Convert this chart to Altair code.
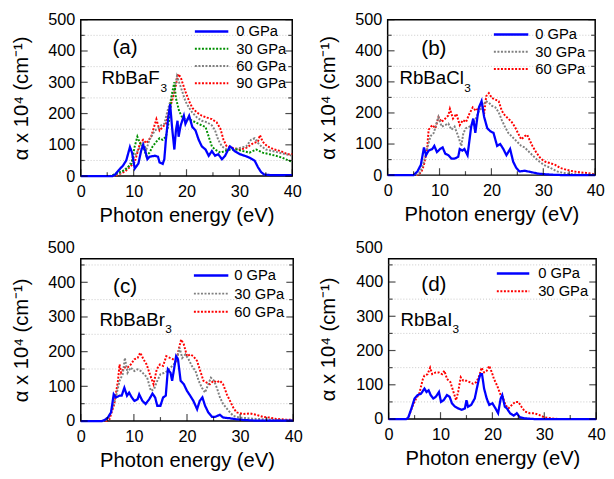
import altair as alt
import pandas as pd

# ---------------- data ----------------
# (a) RbBaF3
a0_e = [0, 6, 6.5, 7.4, 8, 8.6, 9.3, 9.7, 10.2, 10.9, 11.4, 11.8, 12.2, 12.6, 13, 14, 14.6, 14.9, 15.5, 15.8, 16.1, 16.5, 16.9, 17.3, 17.7, 18, 18.3, 18.5, 18.9, 19.5, 19.8, 20.5, 21.1, 21.7, 22.3, 22.9, 23.6, 24.2, 24.8, 25.4, 26, 26.7, 27.3, 28.2, 28.6, 29.1, 30.1, 31, 31.9, 32.9, 33.5, 34.1, 34.7, 36, 40]
a0_v = [0, 0, 5, 23, 34, 50, 93, 75, 24, 40, 80, 100, 80, 54, 62, 65, 62, 44, 39, 54, 116, 180, 230, 150, 85, 146, 177, 126, 162, 193, 167, 193, 157, 146, 116, 95, 85, 65, 80, 65, 70, 54, 65, 95, 90, 80, 70, 65, 59, 49, 29, 13, 5, 3, 3]
a30_e = [0, 5.5, 7, 8.4, 9.6, 10.2, 10.7, 11.2, 11.8, 12.4, 13, 13.6, 14.3, 14.9, 15.5, 16.1, 16.7, 17.2, 17.7, 18, 18.6, 19.2, 19.8, 20.5, 21.1, 21.7, 22.3, 22.9, 23.6, 24.2, 24.8, 25.4, 26.4, 27.3, 28.2, 29.5, 30.7, 31.9, 33.2, 34.4, 35.7, 36.9, 38.1, 39.4, 40]
a30_v = [0, 0, 10, 20, 40, 95, 126, 105, 95, 65, 75, 95, 110, 121, 116, 126, 177, 260, 300, 249, 208, 187, 182, 182, 177, 172, 167, 162, 157, 126, 95, 85, 75, 80, 85, 85, 80, 75, 85, 75, 70, 65, 59, 49, 47]
a60_e = [0, 6, 7.5, 9, 10.9, 11.8, 12.4, 13, 14, 14.6, 15.2, 15.8, 16.4, 17.1, 17.7, 18.2, 18.6, 19.2, 19.8, 20.5, 21.1, 22, 22.9, 23.9, 24.8, 25.4, 26, 26.7, 27.6, 28.8, 30.1, 31.3, 32.2, 32.9, 33.8, 35, 36.3, 37.5, 38.8, 40]
a60_v = [0, 0, 10, 30, 85, 105, 85, 116, 146, 152, 162, 167, 208, 249, 275, 320, 300, 270, 239, 218, 203, 187, 177, 172, 162, 146, 116, 95, 85, 85, 90, 95, 116, 121, 100, 85, 80, 75, 70, 65]
a90_e = [0, 6.5, 8.4, 10.2, 11.2, 11.8, 12.4, 13.3, 14.3, 14.9, 15.5, 16.1, 16.6, 17.4, 18, 18.4, 18.9, 19.4, 19.8, 20.5, 21.1, 22, 22.9, 23.9, 24.8, 25.7, 26.4, 27, 27.6, 28.8, 30.1, 31.3, 32.6, 33.5, 33.9, 34.4, 35.3, 36.6, 37.8, 39.1, 40]
a90_v = [0, 0, 15, 44, 105, 116, 105, 126, 182, 146, 157, 167, 203, 249, 290, 326, 316, 290, 270, 239, 218, 203, 193, 187, 182, 172, 152, 116, 95, 90, 85, 90, 105, 110, 131, 110, 95, 85, 80, 70, 70]

# (b) RbBaCl3
b0_e = [0, 5, 5.75, 6.4, 7, 7.4, 7.9, 8.6, 9, 9.5, 10.1, 10.6, 11.1, 11.7, 12.3, 12.9, 13.6, 13.9, 14.4, 14.8, 15.4, 16.1, 16.5, 16.9, 17.3, 17.6, 18.1, 18.6, 19.2, 19.8, 20.4, 21.1, 21.7, 22.3, 22.9, 23.6, 24.2, 24.8, 25.4, 26.4, 27.6, 28.9, 30.1, 32, 34, 40]
b0_v = [0, 0, 12, 33, 89, 64, 79, 84, 94, 74, 84, 89, 69, 64, 53, 53, 59, 84, 79, 84, 64, 156, 182, 136, 187, 218, 238, 187, 151, 141, 136, 94, 100, 84, 64, 84, 43, 23, 12, 14, 10, 5, 3, 1, 0, 0]
b30_e = [0, 5.5, 6.3, 7, 7.75, 8.25, 8.9, 9.4, 9.8, 10.4, 11.1, 11.7, 12.3, 12.9, 13.6, 14.2, 14.6, 15.1, 15.75, 16.4, 17, 17.6, 18.25, 18.9, 19.5, 20.1, 20.75, 21.4, 22, 22.6, 23.25, 23.9, 24.5, 25.1, 25.75, 26.4, 27, 27.9, 28.9, 30.1, 31.4, 32.6, 33.9, 35.1, 37, 40]
b30_v = [0, 0, 10, 43, 94, 125, 136, 166, 187, 156, 161, 166, 146, 156, 125, 94, 136, 151, 156, 166, 182, 207, 218, 238, 233, 223, 218, 202, 177, 156, 136, 125, 115, 105, 94, 89, 79, 64, 48, 33, 23, 12, 7, 4, 2, 2]
b60_e = [0, 5.8, 6.5, 7, 7.6, 7.9, 8.6, 9.2, 9.8, 10.4, 11.1, 11.7, 12, 12.6, 13.25, 13.9, 14.5, 15.1, 15.75, 16.4, 17, 17.6, 18.25, 18.6, 19, 19.5, 20.1, 20.75, 21.4, 22, 22.6, 23.25, 23.9, 24.5, 25.1, 25.75, 26.4, 26.9, 27.3, 27.9, 28.6, 29.5, 30.4, 31.4, 32.3, 33.25, 34.5, 35.75, 37, 38.25, 39.5, 40]
b60_v = [0, 0, 10, 33, 84, 146, 161, 151, 187, 171, 182, 192, 213, 182, 197, 161, 177, 171, 197, 218, 207, 218, 228, 197, 254, 264, 248, 243, 238, 207, 192, 182, 171, 156, 136, 115, 125, 130, 115, 94, 74, 53, 43, 38, 33, 23, 17, 12, 9, 7, 4, 4]

# (c) RbBaBr3
c0_e = [0, 4, 4.5, 5.1, 5.7, 6.2, 6.6, 7.3, 7.7, 8.2, 8.7, 9.1, 9.6, 10.1, 10.7, 11, 11.6, 12.2, 12.9, 13.5, 14, 14.4, 15, 15.5, 16, 16.4, 16.9, 17.2, 17.5, 17.95, 18.3, 18.8, 19.4, 20, 20.6, 21.2, 21.9, 22.4, 22.9, 23.4, 24, 24.7, 25.3, 26.2, 26.8, 28, 29.3, 30.6, 33, 40]
c0_v = [0, 0, 3, 10, 25, 77, 68, 73, 73, 96, 73, 82, 68, 58, 63, 77, 58, 49, 63, 79, 68, 44, 44, 68, 73, 149, 139, 116, 144, 187, 178, 116, 106, 87, 73, 58, 34, 58, 68, 44, 25, 12, 12, 18, 10, 8, 5, 3, 1, 1]
c30_e = [0, 4.5, 5.1, 6, 6.6, 7.3, 7.9, 8.3, 8.8, 9.4, 10.1, 10.7, 11.3, 11.9, 12.5, 13.2, 13.8, 14.4, 15, 15.7, 16.3, 16.9, 17.5, 18.1, 18.6, 19.1, 19.7, 20.3, 20.9, 21.6, 22.2, 22.8, 23.4, 24, 24.5, 25.1, 25.7, 26.2, 26.8, 27.8, 28.7, 29.9, 31.5, 33, 34.9, 36.8, 39.3, 40]
c30_v = [0, 0, 5, 39, 68, 116, 135, 182, 139, 154, 144, 149, 144, 135, 125, 87, 92, 116, 135, 139, 144, 154, 163, 178, 211, 182, 192, 178, 159, 144, 116, 96, 82, 106, 125, 116, 92, 68, 49, 30, 15, 10, 8, 6, 5, 3, 2, 2]
c60_e = [0, 4.8, 5.4, 6.3, 7, 7.3, 7.6, 8.2, 8.8, 9.4, 10.1, 10.7, 11.2, 11.8, 12.4, 13, 13.7, 14.3, 14.9, 15.5, 16.1, 16.8, 17.4, 18, 18.5, 18.9, 19.4, 20, 20.6, 21.2, 21.9, 22.5, 23.1, 23.7, 24.3, 25, 25.6, 26.2, 26.8, 27.5, 28.1, 28.7, 29.3, 30.6, 31.8, 33, 34.3, 35.5, 36.8, 38.6, 40]
c60_v = [0, 0, 5, 49, 116, 163, 139, 154, 154, 163, 178, 182, 197, 178, 163, 135, 106, 149, 163, 159, 187, 182, 178, 173, 211, 235, 221, 187, 192, 187, 173, 144, 116, 111, 106, 116, 111, 116, 106, 77, 58, 39, 25, 20, 22, 18, 12, 10, 6, 4, 3]

# (d) RbBaI3
d0_e = [0, 3.4, 3.75, 4.4, 5, 5.6, 6.25, 6.9, 7.3, 7.7, 8.1, 8.6, 9.1, 9.7, 10.1, 10.6, 11.25, 11.75, 12.2, 12.8, 13.4, 14.1, 14.7, 15, 15.3, 15.9, 16.6, 17, 17.4, 17.7, 18, 18.4, 18.9, 19.4, 20, 20.6, 21.1, 21.6, 21.9, 22.4, 22.8, 23.4, 24.1, 24.7, 25.3, 26.25, 28, 40]
d0_v = [0, 0, 3, 31, 60, 70, 74, 89, 79, 84, 70, 60, 65, 79, 50, 55, 70, 65, 46, 36, 31, 27, 31, 55, 36, 41, 60, 89, 117, 131, 131, 89, 60, 41, 46, 31, 17, 60, 70, 36, 31, 17, 10, 17, 5, 2, 0, 0]
d30_e = [0, 3.4, 3.75, 4.7, 5.3, 5.9, 6.6, 6.9, 7.5, 8, 8.4, 9.1, 9.7, 10.3, 10.75, 11.25, 11.9, 12.5, 13, 13.4, 13.9, 14.4, 15, 15.6, 16.25, 16.9, 17.5, 17.9, 18.4, 18.9, 19.4, 19.9, 20.3, 20.9, 21.6, 22, 22.5, 23.1, 23.75, 24.4, 25, 25.6, 26.25, 27.2, 28.1, 29, 30, 31.25, 33, 40]
d30_v = [0, 0, 3, 41, 60, 74, 117, 127, 131, 150, 131, 136, 136, 131, 141, 117, 108, 79, 55, 79, 122, 112, 112, 108, 103, 108, 127, 150, 136, 141, 155, 136, 117, 98, 70, 65, 41, 31, 41, 50, 50, 36, 22, 17, 17, 12, 5, 2, 0, 0]

x_labels = [0, 10, 20, 30, 40]
x_minor = [5, 15, 25, 35]
y_labels = [0, 100, 200, 300, 400, 500]
y_minor = [50, 150, 250, 350, 450]

# ---------------- styling ----------------
FONT = "Liberation Sans"
BLUE, GREEN, GRAY, RED = "#0000ff", "#009000", "#808080", "#ff0000"
SOLID, DOT = [1, 0], [2, 1.6]


def panel(series, w, h, ymax, tag, formula, leg, tagpos, formpos):
    xs = alt.Scale(domain=[0, 40], nice=False, zero=False)
    ys = alt.Scale(domain=[0, ymax], nice=False, zero=False)
    xaxis = alt.Axis(values=x_labels, ticks=False, domain=False, grid=False,
                     labelFlush=False, labelFontSize=16.5, labelPadding=8,
                     labelFont=FONT, titleFont=FONT, titleFontSize=20.5,
                     titleFontWeight="normal", titlePadding=6,
                     labelColor="black", titleColor="black")
    yaxis = alt.Axis(values=[v for v in y_labels if v <= ymax], ticks=False, domain=False, grid=False,
                     labelFlush=False, labelFontSize=16.5, labelPadding=6,
                     labelFont=FONT, titleFont=FONT, titleFontSize=20.5,
                     titleFontWeight="normal", titlePadding=17,
                     labelColor="black", titleColor="black")
    X = alt.X("E:Q", scale=xs, axis=xaxis, title="Photon energy (eV)")
    Y = alt.Y("A:Q", scale=ys, axis=yaxis, title="α x 10⁴ (cm⁻¹)")

    layers = []
    grid_df = pd.DataFrame({"A": [v for v in y_minor if v <= ymax]})
    layers.append(alt.Chart(grid_df).mark_rule(color="#c8c8c8", strokeDash=[1, 2], strokeWidth=1)
                  .encode(y=Y))
    # curves: dotted first, solid last
    for name, e, v, col, dash in list(reversed(series)):
        df = pd.DataFrame({"E": e, "A": v})
        layers.append(alt.Chart(df).mark_line(color=col, strokeDash=dash,
                                              strokeWidth=2.3 if dash == SOLID else 2)
                      .encode(x=X, y=Y))
    # tick label that sits above a shortened frame
    extra = [v for v in y_labels if v > ymax]
    if extra:
        layers.append(alt.Chart(pd.DataFrame({"A": extra})).mark_text(
            font=FONT, fontSize=16.5, align="right", baseline="middle", color="black")
            .encode(y=Y, x=alt.value(-6), text=alt.Text("A:Q")))
    # inward ticks
    ymaj = pd.DataFrame({"A": [v for v in y_labels if v <= ymax]})
    ymin = pd.DataFrame({"A": [v for v in y_minor if v <= ymax]})
    xmaj = pd.DataFrame({"E": x_labels})
    xmin = pd.DataFrame({"E": x_minor})
    for df, ln in ((ymaj, 7), (ymin, 4)):
        for xpos in (ln / 2, w - ln / 2):
            layers.append(alt.Chart(df).mark_tick(orient="horizontal", size=ln, thickness=1.2, color="black")
                          .encode(y=Y, x=alt.value(xpos)))
    for df, ln in ((xmaj, 7), (xmin, 4)):
        layers.append(alt.Chart(df).mark_tick(orient="vertical", size=ln, thickness=1.2, color="black")
                      .encode(x=X, y=alt.value(h - ln / 2)))
    # legend
    one = pd.DataFrame({"k": [0]})
    lx0, lx1, tx, ly0, dy = leg
    for i, (name, e, v, col, dash) in enumerate(series):
        yy = ly0 + i * dy
        layers.append(alt.Chart(one).mark_rule(color=col, strokeDash=dash,
                                               strokeWidth=2.5 if dash == SOLID else 2)
                      .encode(x=alt.value(lx0), x2=alt.value(lx1), y=alt.value(yy)))
        layers.append(alt.Chart(one).mark_text(text=name, font=FONT, fontSize=15, align="left",
                                               baseline="middle", color="black")
                      .encode(x=alt.value(tx), y=alt.value(yy)))
    # labels
    layers.append(alt.Chart(one).mark_text(text=tag, font=FONT, fontSize=21, align="center",
                                           baseline="middle", color="black")
                  .encode(x=alt.value(tagpos[0]), y=alt.value(tagpos[1])))
    layers.append(alt.Chart(one).mark_text(text=formula, font=FONT, fontSize=19, align="left",
                                           baseline="alphabetic", color="black")
                  .encode(x=alt.value(formpos[0]), y=alt.value(formpos[1])))
    layers.append(alt.Chart(one).mark_text(text="3", font=FONT, fontSize=12, align="left",
                                           baseline="alphabetic", color="black")
                  .encode(x=alt.value(formpos[2]), y=alt.value(formpos[1] + 8)))
    return alt.layer(*layers).properties(width=w, height=h)


pa = panel([("0 GPa", a0_e, a0_v, BLUE, SOLID), ("30 GPa", a30_e, a30_v, GREEN, DOT),
            ("60 GPa", a60_e, a60_v, GRAY, DOT), ("90 GPa", a90_e, a90_v, RED, DOT)],
           215, 159, 500, "(a)", "RbBaF", (116, 150, 158, 12, 17.5), (45, 29), (21, 65, 81))
pb = panel([("0 GPa", b0_e, b0_v, BLUE, SOLID), ("30 GPa", b30_e, b30_v, GRAY, DOT),
            ("60 GPa", b60_e, b60_v, RED, DOT)],
           211, 158, 500, "(b)", "RbBaCl", (108, 143, 150, 15, 17.5), (47, 30), (12, 65, 78))
pc = panel([("0 GPa", c0_e, c0_v, BLUE, SOLID), ("30 GPa", c30_e, c30_v, GRAY, DOT),
            ("60 GPa", c60_e, c60_v, RED, DOT)],
           216, 165, 468, "(c)", "RbBaBr", (115, 150, 156, 17, 18.5), (45, 29), (19, 68, 86))
pd_ = panel([("0 GPa", d0_e, d0_v, BLUE, SOLID), ("30 GPa", d30_e, d30_v, RED, DOT)],
            211, 163, 468, "(d)", "RbBaI", (110, 143, 152, 15, 18), (46, 27), (12, 68, 65))

chart = alt.vconcat(
    alt.hconcat(pa, pb, spacing=15),
    alt.hconcat(pc, pd_, spacing=15),
    spacing=11,
).configure_view(stroke="black", strokeWidth=1.5).properties(
    padding={"left": 2, "top": -1, "right": 0, "bottom": 0})

chart.save("out.html", embed_options={"renderer": "svg", "actions": False})
